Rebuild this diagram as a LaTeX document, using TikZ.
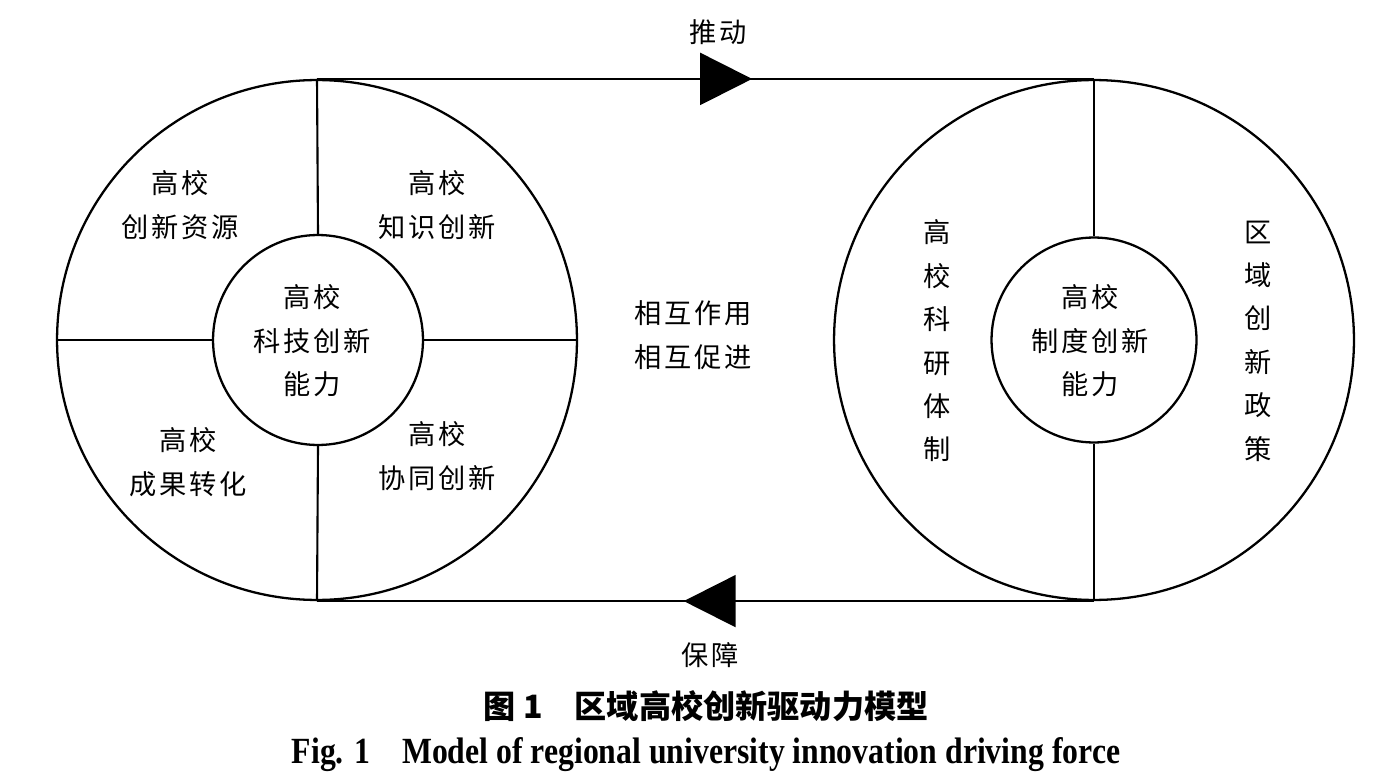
\documentclass[tikz,border=0pt]{standalone}
\usepackage{fontspec}
\usepackage{graphicx}
\usetikzlibrary{decorations.markings,arrows.meta}
\setmainfont{Liberation Serif}
\newfontfamily\cjk[LetterSpace=10]{Noto Sans CJK SC}
\newfontfamily\cjkcap{Noto Sans CJK SC}

\tikzset{
  ring/.style={circle,draw,line width=1.3pt,inner sep=0pt},
  lbl/.style={align=center,inner sep=0pt,font=\cjk\fontsize{15.5}{24.7}\selectfont},
  link/.style={line width=1.2pt},
  flowmark/.style={postaction={decorate},decoration={markings,
    mark=at position #1 with {\arrow{Triangle[length=1.04cm,width=1.04cm]}}}}
}

\begin{document}
\begin{tikzpicture}[x=0.02cm,y=-0.02cm]
\useasboundingbox (0,0) rectangle (1388,780);
% two rings
\node[ring,minimum size=10.4cm] (outerL) at (317,340) {};
\node[ring,minimum size=4.2cm] (innerL) at (318,340) {};
\node[ring,minimum size=10.4cm] (outerR) at (1094,340) {};
\node[ring,minimum size=4.1cm] (innerR) at (1094,340) {};
\draw[link] (outerL.north) -- (innerL.north);
\draw[link] (outerL.south) -- (innerL.south);
\draw[link] (outerL.west) -- (innerL.west);
\draw[link] (outerL.east) -- (innerL.east);
\draw[link] (outerR.north) -- (innerR.north);
\draw[link] (outerR.south) -- (innerR.south);
% belt
\draw[link,flowmark=0.56] (outerL.north) -- (outerR.north);
\draw[link,flowmark=0.528] (outerR.south) -- (outerL.south);
% labels
\node[lbl] (resource) at (180,205) {高校\\创新资源};
\node[lbl] (knowledge) at (437,205) {高校\\知识创新};
\node[lbl] (transfer) at (188,462) {高校\\成果转化};
\node[lbl] (synergy) at (437,456) {高校\\协同创新};
\node[lbl] (techcap) at (312,341) {高校\\科技创新\\能力};
\node[lbl] (mutual) at (693,335) {相互作用\\相互促进};
\node[lbl] (syscap) at (1090,341) {高校\\制度创新\\能力};
\node[lbl] (research) at (937,341) {高\\校\\科\\研\\体\\制};
\node[lbl] (policy) at (1258,341) {区\\域\\创\\新\\政\\策};
\node[lbl] (push) at (718,32) {推动};
\node[lbl] (guarantee) at (710,655) {保障};
% caption
\node[font=\cjkcap\bfseries\fontsize{18.3}{18.3}\selectfont] (figcn) at (706,706)
  {图 1\quad 区域高校创新驱动力模型};
\node[font=\bfseries\fontsize{21}{21}\selectfont] (figen) at (706,755)
  {\scalebox{0.86}[1]{Fig. 1\quad Model of regional university innovation driving force}};
\end{tikzpicture}
\end{document}
